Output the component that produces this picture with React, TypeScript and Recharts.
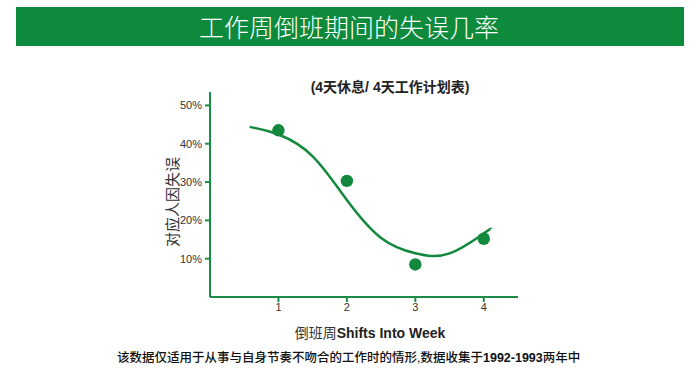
import React from 'react';
import { ComposedChart, Line, Scatter, XAxis, YAxis } from 'recharts';

// measured error rates per shift into the week
const shiftWeeks = [1, 2, 3, 4];
const errorRates = [43.5, 30.3, 8.5, 15.2];

// fitted trend curve
const curveX = [0.58, 1.0, 1.5, 2.0, 2.5, 3.0, 3.5, 4.0, 4.11];
const curveY = [44.4, 42.4, 36.7, 25.3, 15.4, 11.4, 11.4, 16.6, 17.8];

const yTicks = [10, 20, 30, 40, 50];

const pointData = shiftWeeks.map((x, i) => ({ x, rate: errorRates[i] }));
const curveData = curveX.map((x, i) => ({ x, fit: curveY[i] }));

const GREEN = '#13893d';
const AXIS_GREEN = '#1b8c45';

function Dot(props: any) {
  return <circle cx={props.cx} cy={props.cy} r={6.2} fill={GREEN} />;
}

export default function App() {
  return (
    <div style={{ position: 'absolute', left: 0, top: 0, width: 691, height: 370, background: '#fff', overflow: 'hidden' }}>
      <div
        style={{
          position: 'absolute', left: 16, top: 7, width: 668, height: 39, background: '#0d8a3b',
          color: '#fff', fontFamily: '"Noto Sans CJK SC", sans-serif', fontWeight: 300, fontSize: 25,
          lineHeight: '39px',
        }}
      >
        <span style={{ position: 'absolute', left: -17, width: 700, textAlign: 'center' }}>工作周倒班期间的失误几率</span>
      </div>

      <div
        style={{
          position: 'absolute', left: 230, top: 76, width: 320, textAlign: 'center',
          fontFamily: '"Liberation Sans", "Noto Sans CJK SC", sans-serif', fontWeight: 700, fontSize: 14, color: '#222',
        }}
      >
        (4天休息/ 4天工作计划表)
      </div>

      <ComposedChart width={691} height={370} margin={{ top: 92, right: 173, bottom: 43, left: 150 }}>
        <XAxis
          type="number"
          dataKey="x"
          domain={[0, 4.5]}
          ticks={shiftWeeks}
          allowDuplicatedCategory={false}
          height={30}
          stroke={AXIS_GREEN}
          strokeWidth={2}
          tickSize={5}
          tickMargin={1}
          tick={{ fill: '#333', fontSize: 11, fontFamily: '"Liberation Sans", Arial, sans-serif' }}
        />
        <YAxis
          type="number"
          domain={[0, 53.5]}
          ticks={yTicks}
          width={60}
          stroke={AXIS_GREEN}
          strokeWidth={2}
          tickSize={5}
          tickMargin={3}
          tickFormatter={(v: number) => `${v}%`}
          tick={{ fill: '#333', fontSize: 11, fontFamily: '"Liberation Sans", Arial, sans-serif' }}
        />
        <Line
          data={curveData}
          dataKey="fit"
          type="natural"
          stroke={GREEN}
          strokeWidth={2.5}
          dot={false}
          activeDot={false}
          isAnimationActive={false}
        />
        <Scatter data={pointData} dataKey="rate" fill={GREEN} shape={Dot} isAnimationActive={false} />
      </ComposedChart>

      <div
        style={{
          position: 'absolute', left: 171, top: 202, transform: 'translate(-50%, -50%) rotate(-90deg)',
          whiteSpace: 'nowrap', fontFamily: '"Noto Sans CJK SC", serif', fontSize: 15, color: '#333',
        }}
      >
        对应人因失误
      </div>
      <div
        style={{
          position: 'absolute', left: 210, top: 322, width: 320, textAlign: 'center', whiteSpace: 'nowrap',
          fontFamily: '"Liberation Sans", "Noto Sans CJK SC", sans-serif', fontSize: 14, color: '#333',
        }}
      >
        <span style={{ fontFamily: '"Noto Sans CJK SC", sans-serif' }}>倒班周</span>
        <b style={{ color: '#222' }}>Shifts Into Week</b>
      </div>
      <div
        style={{
          position: 'absolute', left: 117, top: 347, whiteSpace: 'nowrap',
          fontFamily: '"Liberation Sans", "Noto Sans CJK SC", sans-serif', fontSize: 12.5, color: '#111', fontWeight: 500,
        }}
      >
        该数据仅适用于从事与自身节奏不吻合的工作时的情形,数据收集于<b>1992-1993</b>两年中
      </div>
    </div>
  );
}
